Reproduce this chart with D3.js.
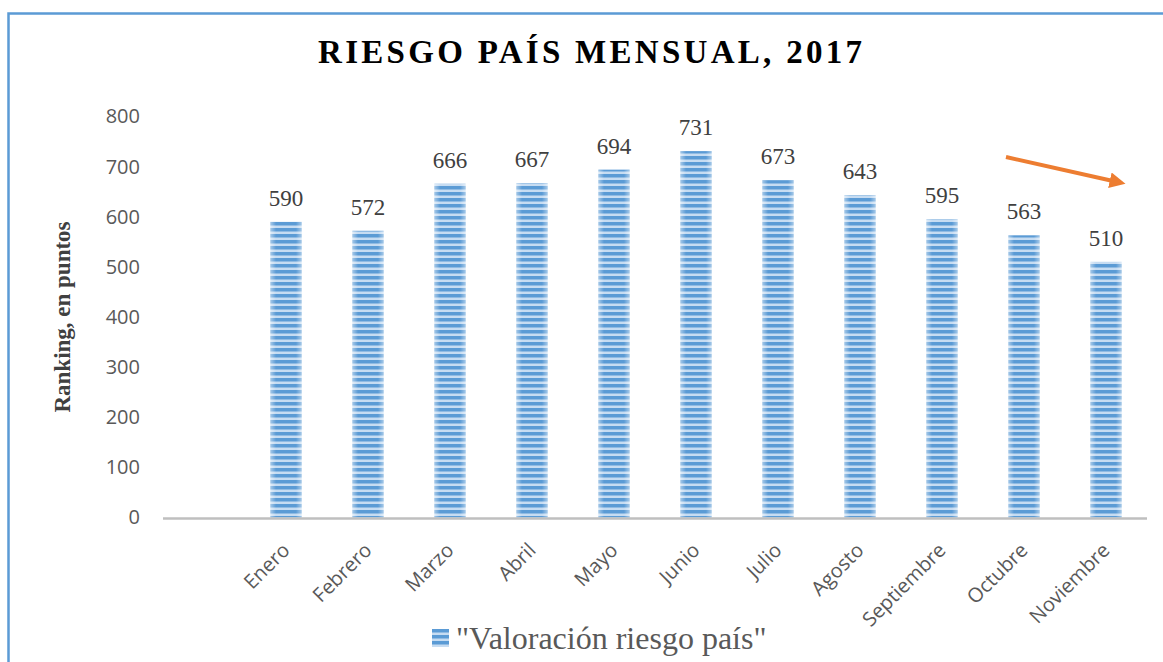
<!DOCTYPE html>
<html>
<head>
<meta charset="utf-8">
<script src="https://cdn.jsdelivr.net/npm/d3@7"></script>
<style>
  body { margin: 0; background: #fff; }
  svg { display: block; }
</style>
</head>
<body>
<div class="chart"></div>
<script>
// data
const months = ["Enero", "Febrero", "Marzo", "Abril", "Mayo", "Junio", "Julio", "Agosto", "Septiembre", "Octubre", "Noviembre"];
const values = [590, 572, 666, 667, 694, 731, 673, 643, 595, 563, 510];
const yTicks = [0, 100, 200, 300, 400, 500, 600, 700, 800];
const seriesName = "\"Valoración riesgo país\"";

const width = 1163;
const height = 662;

const svg = d3.select('.chart').append('svg')
    .attr('width', width)
    .attr('height', height);

const defs = svg.append('defs');

// striped fill like the original bars
const pat = defs.append('pattern')
    .attr('id', 'stripes')
    .attr('patternUnits', 'userSpaceOnUse')
    .attr('width', 8)
    .attr('height', 6);
pat.append('rect').attr('width', 8).attr('height', 6).attr('fill', '#c6dcf2');
pat.append('rect').attr('width', 8).attr('height', 3.5).attr('fill', '#5b9bd5');

const edge = defs.append('linearGradient').attr('id', 'edge');
edge.append('stop').attr('offset', '0%').attr('stop-color', '#fff').attr('stop-opacity', 0.45);
edge.append('stop').attr('offset', '18%').attr('stop-color', '#fff').attr('stop-opacity', 0);
edge.append('stop').attr('offset', '82%').attr('stop-color', '#fff').attr('stop-opacity', 0);
edge.append('stop').attr('offset', '100%').attr('stop-color', '#fff').attr('stop-opacity', 0.45);

// frame
svg.append('rect')
    .attr('x', 8.5).attr('y', 13.5)
    .attr('width', 1180).attr('height', 700)
    .attr('fill', 'none')
    .attr('stroke', '#5b9bd5')
    .attr('stroke-width', 2.5);

// first band is left empty, as in the original
const x = d3.scaleBand()
    .domain([""].concat(months))
    .range([163, 1147])
    .paddingInner(0.62)
    .paddingOuter(0.31);

const y = d3.scaleLinear()
    .domain([0, 800])
    .range([517.5, 116.5]);

svg.append('text')
    .attr('x', 590)
    .attr('y', 63)
    .attr('text-anchor', 'middle')
    .attr('textLength', 544)
    .attr('lengthAdjust', 'spacing')
    .style('font-family', '"Liberation Serif", "Times New Roman", serif')
    .style('font-weight', 'bold')
    .style('font-size', '33px')
    .style('fill', '#000')
    .text('RIESGO PAÍS MENSUAL, 2017');

const yAxis = svg.append('g')
    .attr('transform', 'translate(163,0)')
    .call(d3.axisLeft(y).tickValues(yTicks).tickSize(0).tickPadding(23));
yAxis.select('.domain').remove();
yAxis.selectAll('text')
    .style('font-family', '"Open Sans", sans-serif')
    .style('font-size', '20px')
    .style('fill', '#595959');

svg.append('text')
    .attr('transform', 'translate(70,317) rotate(-90)')
    .attr('text-anchor', 'middle')
    .style('font-family', '"Liberation Serif", "Times New Roman", serif')
    .style('font-weight', 'bold')
    .style('font-size', '23px')
    .style('fill', '#404040')
    .text('Ranking, en puntos');

const bars = svg.selectAll('.bar')
    .data(values)
    .enter()
    .append('g')
    .attr('class', 'bar');

bars.append('rect')
    .attr('x', (d, i) => x(months[i]))
    .attr('y', d => y(d))
    .attr('width', x.bandwidth())
    .attr('height', d => y(0) - y(d))
    .attr('fill', 'url(#stripes)');

bars.append('rect')
    .attr('x', (d, i) => x(months[i]))
    .attr('y', d => y(d))
    .attr('width', x.bandwidth())
    .attr('height', d => y(0) - y(d))
    .attr('fill', 'url(#edge)');

bars.append('text')
    .attr('x', (d, i) => x(months[i]) + x.bandwidth() / 2)
    .attr('y', d => y(d) - 16)
    .attr('text-anchor', 'middle')
    .style('font-family', '"Liberation Serif", "Times New Roman", serif')
    .style('font-size', '23px')
    .style('fill', '#404040')
    .text(d => d);

// x axis line
svg.append('line')
    .attr('x1', x.range()[0]).attr('x2', x.range()[1])
    .attr('y1', y(0) + 1).attr('y2', y(0) + 1)
    .style('stroke', '#bfbfbf')
    .style('stroke-width', 2.5);

svg.selectAll('.xlabel')
    .data(months)
    .enter()
    .append('text')
    .attr('class', 'xlabel')
    .attr('transform', d => `translate(${x(d) + x.bandwidth() / 2 + 5},${y(0) + 34}) rotate(-45)`)
    .attr('text-anchor', 'end')
    .style('font-family', '"Open Sans", sans-serif')
    .style('font-size', '20px')
    .style('fill', '#595959')
    .text(d => d);

// legend
const legend = svg.append('g').attr('transform', 'translate(432,629)');
legend.append('rect')
    .attr('width', 17).attr('height', 18)
    .attr('fill', 'url(#stripes)');
legend.append('text')
    .attr('x', 24)
    .attr('y', 20)
    .style('font-family', '"Liberation Serif", "Times New Roman", serif')
    .style('font-size', '32px')
    .style('fill', '#595959')
    .text(seriesName);

// orange trend arrow
defs.append('marker')
    .attr('id', 'head')
    .attr('viewBox', '0 0 10 10')
    .attr('refX', 2).attr('refY', 5)
    .attr('markerWidth', 4).attr('markerHeight', 4)
    .attr('orient', 'auto')
    .append('path')
    .attr('d', 'M0,0 L10,5 L0,10 Z')
    .attr('fill', '#ed7d31');

svg.append('line')
    .attr('x1', 1006).attr('y1', 157)
    .attr('x2', 1113).attr('y2', 181)
    .style('stroke', '#ed7d31')
    .style('stroke-width', 4)
    .attr('marker-end', 'url(#head)');
</script>
</body>
</html>
